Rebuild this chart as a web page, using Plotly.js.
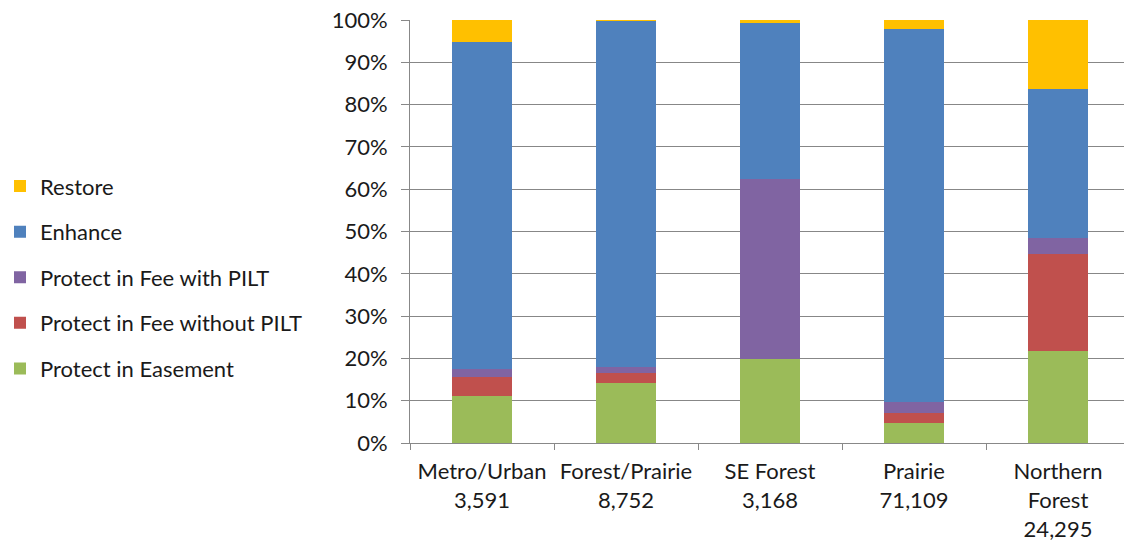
<!DOCTYPE html>
<html>
<head>
<meta charset="utf-8">
<script src="https://cdn.plot.ly/plotly-3.0.1.min.js"></script>
<style>
html,body{margin:0;padding:0;background:#fff;overflow:hidden;width:1124px;height:549px;}
#chart{width:1134px;height:549px;}
</style>
</head>
<body>
<div id="chart"></div>
<script>
var regions = ["Metro/Urban", "Forest/Prairie", "SE Forest", "Prairie", "Northern<br>Forest"];
var acres = ["3,591", "8,752", "3,168", "71,109", "24,295"];
var seriesNames = ["Protect in Easement", "Protect in Fee without PILT", "Protect in Fee with PILT", "Enhance", "Restore"];
var easement = [11.1, 14.3, 19.8, 4.8, 21.8];
var feeWithoutPILT = [4.6, 2.2, 0.0, 2.2, 22.9];
var feeWithPILT = [1.7, 1.5, 42.5, 2.8, 3.7];
var enhance = [77.5, 81.8, 36.9, 88.1, 35.3];
var restore = [5.1, 0.2, 0.8, 2.1, 16.3];
var colors = ["#9BBB59", "#C0504D", "#8064A2", "#4F81BD", "#FFC000"];

var tickLabels = regions.map(function(r, i){ return r + "<br>" + acres[i]; });
var values = [easement, feeWithoutPILT, feeWithPILT, enhance, restore];

var traces = values.map(function(v, i){
  return {
    type: "bar",
    name: seriesNames[i],
    x: tickLabels,
    y: v,
    legendgroup: "g" + i,
    legendrank: 1000 - i * 100,
    marker: {color: colors[i], line: {width: 0}},
    hoverinfo: "name+y"
  };
});

var font = "Lato, 'Open Sans', sans-serif";
var layout = {
  width: 1134,
  height: 549,
  margin: {l: 410, r: 4, t: 20, b: 106},
  barmode: "stack",
  bargap: 0.59,
  paper_bgcolor: "#fff",
  plot_bgcolor: "#fff",
  font: {family: font, size: 22, color: "#1a1a1a"},
  showlegend: true,
  legend: {
    xref: "container", yref: "container",
    x: 0, y: 0.495, xanchor: "left", yanchor: "middle",
    traceorder: "grouped",
    tracegroupgap: 14,
    font: {family: font, size: 22, color: "#1a1a1a"},
    itemwidth: 30
  },
  xaxis: {
    type: "category",
    tickson: "boundaries",
    ticks: "outside",
    ticklen: 6,
    tickcolor: "#888",
    showline: true,
    linecolor: "#888",
    linewidth: 1,
    showgrid: false,
    tickfont: {family: font, size: 22, color: "#1a1a1a"},
    ticklabelstandoff: 9
  },
  yaxis: {
    range: [0, 100],
    dtick: 10,
    ticksuffix: "%",
    ticks: "outside",
    ticklen: 8,
    tickcolor: "#888",
    showline: true,
    linecolor: "#888",
    linewidth: 1,
    showgrid: true,
    gridcolor: "#878787",
    gridwidth: 1,
    zeroline: false,
    tickfont: {family: font, size: 22, color: "#1a1a1a"},
    ticklabelstandoff: 9
  }
};

Plotly.newPlot("chart", traces, layout, {displayModeBar: false, staticPlot: true});
</script>
</body>
</html>
